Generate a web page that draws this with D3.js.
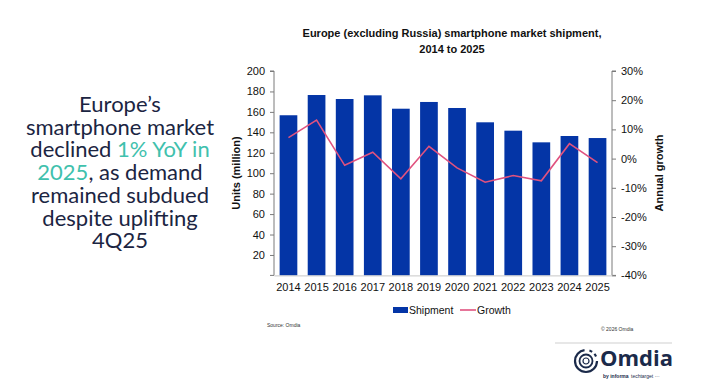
<!DOCTYPE html>
<html><head><meta charset="utf-8">
<script src="https://cdn.jsdelivr.net/npm/d3@7"></script>
<style>body{margin:0;background:#fff}svg{display:block}</style>
</head><body><svg id="c" width="720" height="380"></svg>
<script>
const years = ["2014","2015","2016","2017","2018","2019","2020","2021","2022","2023","2024","2025"];
const shipment = [156.7,176.5,172.6,176.2,163.1,169.7,163.8,149.8,141.6,130.2,136.4,134.4];
const growth = [7.2,13.2,-2.3,2.2,-6.9,4.2,-3.2,-8.1,-5.8,-7.6,5.1,-1.4];
const leftTicks = [20,40,60,80,100,120,140,160,180,200];
const rightTicks = [-40,-30,-20,-10,0,10,20,30];
const headline = [
  [["Europe’s", false]],
  [["smartphone market", false]],
  [["declined ", false], ["1% YoY in", true]],
  [["2025", true], [", as demand", false]],
  [["remained subdued", false]],
  [["despite uplifting", false]],
  [["4Q25", false]]
];

const svg = d3.select("#c");
const F = "'Liberation Sans', Arial, sans-serif";
const x0 = 274, x1 = 612, yTop = 71, yBot = 275.4;
const x = d3.scaleBand().domain(years).range([x0, x1]).paddingInner(0.37).paddingOuter(0.2);
const yL = d3.scaleLinear().domain([0, 200]).range([yBot, yTop]);
const yR = d3.scaleLinear().domain([-40, 30]).range([yBot, yTop]);

// title
const title = svg.append("text").attr("x", 452).attr("text-anchor", "middle")
  .attr("font-family", F).attr("font-weight", "bold").attr("font-size", 11).attr("fill", "#111");
title.append("tspan").attr("x", 452).attr("y", 37).text("Europe (excluding Russia) smartphone market shipment,");
title.append("tspan").attr("x", 452).attr("y", 53).text("2014 to 2025");

// bars
svg.append("g").selectAll("rect").data(years).join("rect")
  .attr("x", d => x(d)).attr("width", x.bandwidth())
  .attr("y", (d, i) => yL(shipment[i])).attr("height", (d, i) => yBot - yL(shipment[i]))
  .attr("fill", "#0435a6");

// axes
const axL = svg.append("g").attr("transform", `translate(${x0},0)`)
  .call(d3.axisLeft(yL).tickValues(leftTicks).tickSize(4).tickPadding(5));
const axR = svg.append("g").attr("transform", `translate(${x1},0)`)
  .call(d3.axisRight(yR).tickValues(rightTicks).tickSize(4).tickPadding(5).tickFormat(d => d + "%"));
const axB = svg.append("g").attr("transform", `translate(0,${yBot})`)
  .call(d3.axisBottom(x).tickSize(0).tickPadding(8));
[axL, axR, axB].forEach(a => {
  a.selectAll("text").attr("font-family", F).attr("font-size", 11).attr("fill", "#111");
  a.selectAll("line,path").attr("stroke", "#7a7a7a");
});
axL.select("path").attr("d", `M-4,${yTop}H0V${yBot}H-4`);
axR.select("path").attr("d", `M4,${yTop}H0V${yBot}H4`);
axB.select("path").attr("stroke", "#c8c8c8");

// growth line
svg.append("path").datum(growth)
  .attr("d", d3.line().x((d, i) => x(years[i]) + x.bandwidth() / 2).y(d => yR(d)))
  .attr("fill", "none").attr("stroke", "#e0527f").attr("stroke-width", 1.6);

// axis titles
svg.append("text").attr("transform", `translate(240,173) rotate(-90)`).attr("text-anchor", "middle")
  .attr("font-family", F).attr("font-weight", "bold").attr("font-size", 11).attr("fill", "#111").text("Units (million)");
svg.append("text").attr("transform", `translate(663,173) rotate(-90)`).attr("text-anchor", "middle")
  .attr("font-family", F).attr("font-weight", "bold").attr("font-size", 11).attr("fill", "#111").text("Annual growth");

// legend
const lg = svg.append("g");
lg.append("rect").attr("x", 393).attr("y", 307).attr("width", 15).attr("height", 6).attr("fill", "#0435a6");
lg.append("text").attr("x", 409).attr("y", 314).attr("font-family", F).attr("font-size", 10.5).attr("fill", "#111").text("Shipment");
lg.append("line").attr("x1", 460).attr("x2", 476).attr("y1", 310).attr("y2", 310).attr("stroke", "#e0527f").attr("stroke-width", 1.6);
lg.append("text").attr("x", 477).attr("y", 314).attr("font-family", F).attr("font-size", 10.5).attr("fill", "#111").text("Growth");

// source & copyright
svg.append("text").attr("x", 267).attr("y", 327).attr("font-family", F).attr("font-size", 5).attr("fill", "#333").text("Source: Omdia");
svg.append("text").attr("x", 601).attr("y", 331).attr("font-family", F).attr("font-size", 5).attr("fill", "#333").text("© 2026 Omdia");

// headline text
const ht = svg.append("text").attr("text-anchor", "middle").attr("font-family", "Lato, 'Open Sans', sans-serif")
  .attr("font-size", 22).attr("fill", "#1b2542");
headline.forEach((line, i) => {
  const ts = ht.append("tspan").attr("x", 120).attr("y", 112 + i * 22.7);
  line.forEach((seg, j) => {
    const s = j === 0 ? ts : ht.append("tspan");
    s.text(seg[0]).attr("fill", seg[1] ? "#3fc1ad" : "#1b2542");
  });
});

// footer separator & logo
svg.append("line").attr("x1", 555).attr("x2", 672).attr("y1", 343).attr("y2", 343).attr("stroke", "#cfcfcf").attr("stroke-width", 1);
const lgo = svg.append("g").attr("transform", "translate(586,361)");
lgo.append("circle").attr("r", 11).attr("fill", "none").attr("stroke", "#1b2a4a").attr("stroke-width", 2.2)
  .attr("stroke-dasharray", "50 5 3 3 3 5");
lgo.append("circle").attr("r", 6.5).attr("fill", "none").attr("stroke", "#1b2a4a").attr("stroke-width", 1.8);
lgo.append("circle").attr("r", 3).attr("fill", "none").attr("stroke", "#1b2a4a").attr("stroke-width", 1.2);
svg.append("text").attr("x", 600).attr("y", 366).attr("font-family", "'Open Sans', sans-serif").attr("font-weight", "bold")
  .attr("font-size", 22).attr("fill", "#1b2a4a").text("Omdia");
svg.append("text").attr("x", 603).attr("y", 378).attr("font-family", F).attr("font-size", 5).attr("fill", "#1b2a4a")
  .attr("font-weight", "bold").text("by informa");
svg.append("text").attr("x", 631).attr("y", 378).attr("font-family", F).attr("font-size", 5).attr("fill", "#1b2a4a")
  .text("techtarget ···");
</script></body></html>
